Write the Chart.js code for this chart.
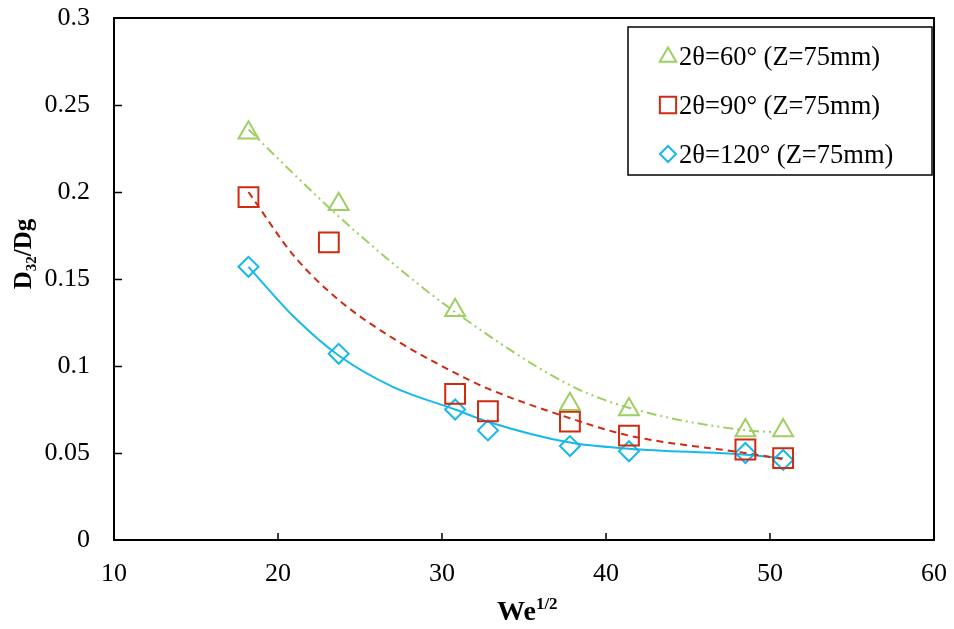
<!DOCTYPE html>
<html>
<head>
<meta charset="utf-8">
<script src="https://cdn.jsdelivr.net/npm/chart.js@4.4.1/dist/chart.umd.min.js"></script>
<style>
html,body{margin:0;padding:0;background:#fff;}
#wrap{width:954px;height:629px;}
</style>
</head>
<body>
<div id="wrap"><canvas id="c" width="954" height="629"></canvas></div>
<script>
// measured points
const xA = [18.2, 23.7, 30.8, 37.8, 41.4, 48.5, 50.8];
const y60 = [0.234, 0.193, 0.132, 0.078, 0.075, 0.063, 0.063];
const xB = [18.2, 23.1, 30.8, 32.8, 37.8, 41.4, 48.5, 50.8];
const y90 = [0.197, 0.171, 0.084, 0.074, 0.068, 0.060, 0.052, 0.047];
const xC = [18.2, 23.7, 30.8, 32.8, 37.8, 41.4, 48.5, 50.8];
const y120 = [0.157, 0.107, 0.075, 0.063, 0.054, 0.051, 0.050, 0.046];

// trend lines
const trendX60 = [18.2, 21, 23.7, 27, 30.8, 37.8, 41.4, 48.5, 50.3];
const trend60 = [0.236, 0.210, 0.186, 0.159, 0.131, 0.089, 0.076, 0.063, 0.062];
const trendX90 = [18.2, 21, 23.7, 27, 30.8, 32.8, 37.8, 41.4, 48.5, 50.8];
const trend90 = [0.200, 0.163, 0.138, 0.116, 0.096, 0.087, 0.070, 0.060, 0.050, 0.0465];
const trendX120 = [18.2, 21, 23.7, 27, 30.8, 32.8, 37.8, 41.4, 48.5, 50.8];
const trend120 = [0.157, 0.128, 0.106, 0.088, 0.075, 0.068, 0.056, 0.0525, 0.049, 0.047];

const xTicks = [10, 20, 30, 40, 50, 60];
const yTicks = [0, 0.05, 0.1, 0.15, 0.2, 0.25, 0.3];
const yTickLabels = ["0", "0.05", "0.1", "0.15", "0.2", "0.25", "0.3"];
const seriesNames = ["2θ=60° (Z=75mm)", "2θ=90° (Z=75mm)", "2θ=120° (Z=75mm)"];

const GREEN = "#9dcf62", RED = "#cf2a12", BLUE = "#17b8ea";
const FONT = "'Liberation Serif','Times New Roman',serif";

function pts(xs, ys){ return xs.map((x,i)=>({x:x, y:ys[i]})); }

function trend(xs, ys, color, dash){
    return {type:"line", data:pts(xs, ys), borderColor:color, borderWidth:2, borderDash:dash,
        pointRadius:0, cubicInterpolationMode:"monotone", fill:false, order:2};
}
function marks(xs, ys, color, style, r){
    return {type:"scatter", data:pts(xs, ys), borderColor:color, backgroundColor:"rgba(0,0,0,0)",
        pointStyle:style, pointRadius:r, pointHoverRadius:r, pointBorderWidth:2, showLine:false, order:1};
}

// no extra label overhang padding, the layout padding sets the plot box
function noPad(s){ s.paddingTop = 0; s.paddingBottom = 0; s.paddingLeft = 0; s.paddingRight = 0; }

// frame, inner ticks, axis titles, legend
const decor = {
    id:"decor",
    afterDraw(chart){
        const ctx = chart.ctx, a = chart.chartArea, xs = chart.scales.x, ys = chart.scales.y;
        ctx.save();
        ctx.strokeStyle = "#000"; ctx.lineWidth = 2;
        ctx.beginPath();
        ctx.moveTo(a.left, a.top); ctx.lineTo(a.right, a.top); ctx.lineTo(a.right, a.bottom);
        ctx.stroke();
        ctx.lineWidth = 1.5;
        ctx.beginPath();
        xTicks.slice(1, -1).forEach(v=>{
            const px = Math.round(xs.getPixelForValue(v));
            ctx.moveTo(px, a.bottom); ctx.lineTo(px, a.bottom - 7);
        });
        yTicks.slice(1, -1).forEach(v=>{
            const py = Math.round(ys.getPixelForValue(v)) + 0.5;
            ctx.moveTo(a.left, py); ctx.lineTo(a.left + 8, py);
        });
        ctx.stroke();

        // x title We^1/2
        ctx.fillStyle = "#000"; ctx.textBaseline = "alphabetic"; ctx.textAlign = "left";
        ctx.font = "bold 28px " + FONT;
        const w1 = ctx.measureText("We").width;
        const x0 = 497;
        ctx.fillText("We", x0, 620);
        ctx.font = "bold 17px " + FONT;
        ctx.fillText("1/2", x0 + w1, 609);

        // y title D32/Dg
        ctx.translate(31, (a.top + a.bottom)/2 - 25);
        ctx.rotate(-Math.PI/2);
        ctx.font = "bold 25px " + FONT;
        const d = ctx.measureText("D").width, dg = ctx.measureText("/Dg").width;
        ctx.font = "bold 15px " + FONT;
        const s = ctx.measureText("32").width;
        const t0 = -(d + s + dg)/2;
        ctx.font = "bold 25px " + FONT;
        ctx.fillText("D", t0, 0);
        ctx.font = "bold 15px " + FONT;
        ctx.fillText("32", t0 + d, 5);
        ctx.font = "bold 25px " + FONT;
        ctx.fillText("/Dg", t0 + d + s, 0);
        ctx.restore();

        // legend box
        ctx.save();
        ctx.strokeStyle = "#000"; ctx.lineWidth = 1.5;
        ctx.strokeRect(628, 27, 304, 148);
        const styles = [["triangle", GREEN, 9.5], ["rect", RED, 11.5], ["rectRot", BLUE, 8]];
        const rows = [56, 105, 154];
        ctx.textBaseline = "middle"; ctx.textAlign = "left";
        seriesNames.forEach((n, i)=>{
            ctx.lineWidth = 2;
            ctx.strokeStyle = styles[i][1];
            ctx.fillStyle = "rgba(0,0,0,0)";
            Chart.helpers.drawPoint(ctx, {pointStyle:styles[i][0], radius:styles[i][2], borderWidth:2},
                668, rows[i] + (i === 0 ? 1 : 0));
            ctx.fillStyle = "#000";
            ctx.font = "26.5px " + FONT;
            ctx.fillText(n, 679, rows[i] + 2);
        });
        ctx.restore();
    }
};

new Chart(document.getElementById("c"), {
    type:"scatter",
    data:{datasets:[
        trend(trendX60, trend60, GREEN, [10,4,2,4,2,4]),
        trend(trendX90, trend90, RED, [7,5]),
        trend(trendX120, trend120, BLUE, []),
        marks(xA, y60, GREEN, "triangle", 11.5),
        marks(xB, y90, RED, "rect", 14),
        marks(xC, y120, BLUE, "rectRot", 10)
    ]},
    options:{
        responsive:false, animation:false, devicePixelRatio:1,
        layout:{padding:{left:0, top:18, right:20, bottom:0}},
        plugins:{legend:{display:false}, tooltip:{enabled:false}},
        scales:{
            x:{type:"linear", min:10, max:60,
                afterBuildTicks:s=>{ s.ticks = xTicks.map(v=>({value:v})); },
                afterFit:s=>{ s.height = 89; noPad(s); },
                grid:{display:false, drawTicks:false, tickLength:0},
                border:{display:true, color:"#000", width:2},
                ticks:{color:"#000", font:{family:FONT, size:26}, padding:19, maxRotation:0,
                    callback:v=>String(v)}
            },
            y:{type:"linear", min:0, max:0.3,
                afterBuildTicks:s=>{ s.ticks = yTicks.map(v=>({value:v})); },
                afterFit:s=>{ s.width = 114; noPad(s); },
                grid:{display:false, drawTicks:false, tickLength:0},
                border:{display:true, color:"#000", width:2},
                ticks:{color:"#000", font:{family:FONT, size:26}, padding:24,
                    callback:(v, i)=>yTickLabels[i]}
            }
        }
    },
    plugins:[decor]
});
</script>
</body>
</html>
